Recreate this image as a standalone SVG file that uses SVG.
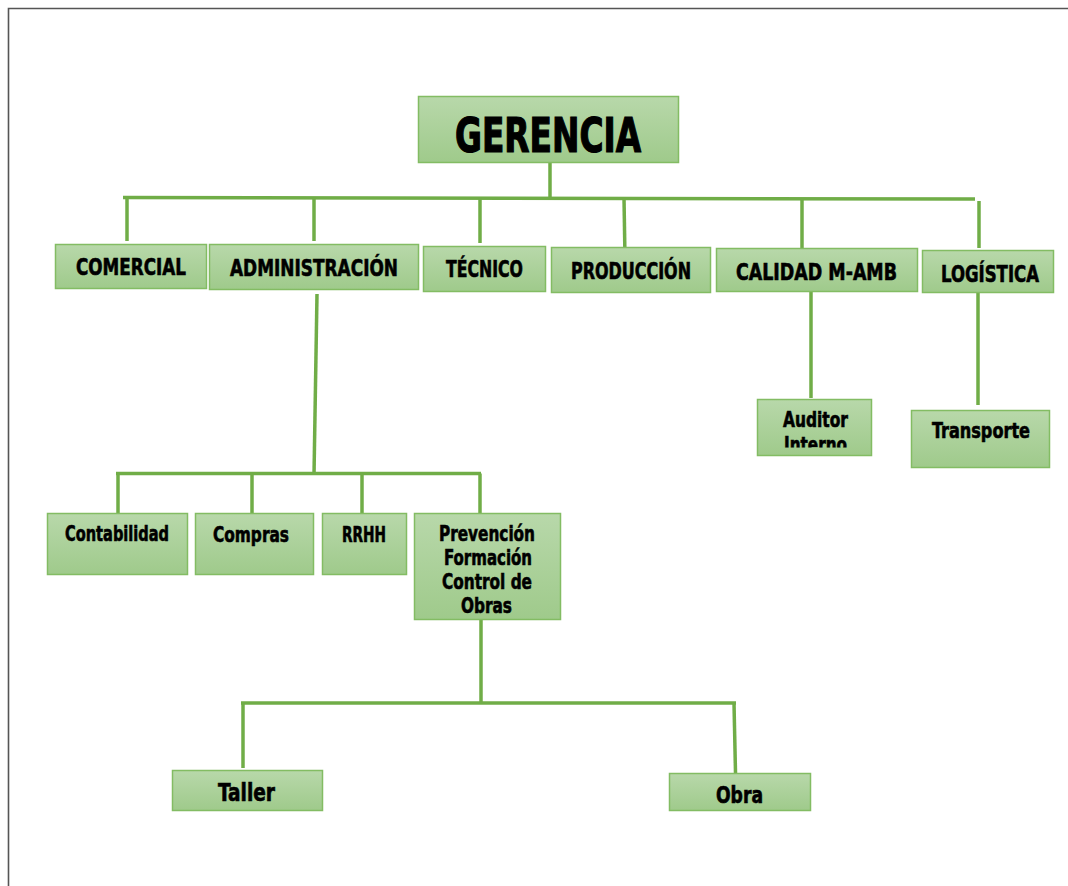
<svg xmlns="http://www.w3.org/2000/svg" width="1068" height="886" viewBox="0 0 1068 886">
<style>
.box{fill:url(#g);stroke:#83bc63;stroke-width:1.5}
.c{stroke:#70ad47;stroke-width:3.5;fill:none;stroke-linecap:butt}
.t{font-family:"Liberation Sans Narrow","DejaVu Sans Condensed","Liberation Sans",sans-serif;font-weight:bold;fill:#000;stroke:#000;stroke-width:0.6;font-stretch:condensed}
.big{stroke-width:1.2}
</style>
<defs>
<linearGradient id="g" x1="0" y1="0" x2="0" y2="1">
<stop offset="0" stop-color="#b8d8aa"/>
<stop offset="1" stop-color="#9fca8b"/>
</linearGradient>
<clipPath id="clipAud"><rect x="757" y="399" width="115" height="48.5"/></clipPath>
</defs>
<rect width="1068" height="886" fill="#fff"/>
<path d="M8.5 886 V8.5 H1068" fill="none" stroke="#555" stroke-width="1.6"/>
<g id="connectors">
<path class="c" d="M550 162 V198"/>
<path class="c" d="M123 197.5 L975 199"/>
<path class="c" d="M127 197.5 V241"/>
<path class="c" d="M314 197.5 V241"/>
<path class="c" d="M480 198 V243"/>
<path class="c" d="M624 198 L625 258"/>
<path class="c" d="M802 199 V250"/>
<path class="c" d="M979 201 V248"/>
<path class="c" d="M811 292 V398"/>
<path class="c" d="M978 293 V405"/>
<path class="c" d="M317 294 L314 475"/>
<path class="c" d="M116 473.5 H481"/>
<path class="c" d="M118 473.5 V514"/>
<path class="c" d="M252 473.5 V514"/>
<path class="c" d="M362 473.5 V514"/>
<path class="c" d="M480 473.5 V514"/>
<path class="c" d="M481 620 V703"/>
<path class="c" d="M241 703 H736"/>
<path class="c" d="M243 703 V768"/>
<path class="c" d="M734 703 L735.5 773"/>
</g>
<g id="gerencia">
<rect class="box" x="418.5" y="96.5" width="260" height="66"/>
<text class="t big" x="455" y="152" font-size="48" textLength="186" lengthAdjust="spacingAndGlyphs">GERENCIA</text>
</g>
<g id="comercial">
<rect class="box" x="55.5" y="244.5" width="151" height="44"/>
<text class="t" x="76" y="275" font-size="23" textLength="110" lengthAdjust="spacingAndGlyphs">COMERCIAL</text>
</g>
<g id="administracion">
<rect class="box" x="209.5" y="244.5" width="209" height="45"/>
<text class="t" x="230" y="276" font-size="23" textLength="168" lengthAdjust="spacingAndGlyphs">ADMINISTRACIÓN</text>
</g>
<g id="tecnico">
<rect class="box" x="423.5" y="246.5" width="122" height="45"/>
<text class="t" x="446" y="277" font-size="23" textLength="77" lengthAdjust="spacingAndGlyphs">TÉCNICO</text>
</g>
<g id="produccion">
<rect class="box" x="551.5" y="247.5" width="159" height="45"/>
<text class="t" x="571" y="279" font-size="23" textLength="120" lengthAdjust="spacingAndGlyphs">PRODUCCIÓN</text>
</g>
<g id="calidad">
<rect class="box" x="716.5" y="248.5" width="201" height="43"/>
<text class="t" x="736" y="280" font-size="23" textLength="161" lengthAdjust="spacingAndGlyphs">CALIDAD M-AMB</text>
</g>
<g id="logistica">
<rect class="box" x="922.5" y="250.5" width="131" height="42"/>
<text class="t" x="941" y="282" font-size="23" textLength="98" lengthAdjust="spacingAndGlyphs">LOGÍSTICA</text>
</g>
<g id="auditor">
<rect class="box" x="757.5" y="399.5" width="114" height="56"/>
<g clip-path="url(#clipAud)">
<text class="t" x="783" y="427" font-size="21" textLength="65" lengthAdjust="spacingAndGlyphs">Auditor</text>
<text class="t" x="784" y="452" font-size="21" textLength="63" lengthAdjust="spacingAndGlyphs">Interno</text>
</g>
</g>
<g id="transporte">
<rect class="box" x="911.5" y="410.5" width="138" height="57"/>
<text class="t" x="932" y="438" font-size="21" textLength="98" lengthAdjust="spacingAndGlyphs">Transporte</text>
</g>
<g id="contabilidad">
<rect class="box" x="47.5" y="513.5" width="140" height="61"/>
<text class="t" x="65" y="541" font-size="21" textLength="104" lengthAdjust="spacingAndGlyphs">Contabilidad</text>
</g>
<g id="compras">
<rect class="box" x="195.5" y="513.5" width="118" height="61"/>
<text class="t" x="213" y="542" font-size="21" textLength="76" lengthAdjust="spacingAndGlyphs">Compras</text>
</g>
<g id="rrhh">
<rect class="box" x="322.5" y="513.5" width="84" height="61"/>
<text class="t" x="342" y="542" font-size="21" textLength="44" lengthAdjust="spacingAndGlyphs">RRHH</text>
</g>
<g id="prevencion">
<rect class="box" x="414.5" y="513.5" width="146" height="106"/>
<text class="t" x="439" y="541" font-size="21" textLength="96" lengthAdjust="spacingAndGlyphs">Prevención</text>
<text class="t" x="444" y="565" font-size="21" textLength="88" lengthAdjust="spacingAndGlyphs">Formación</text>
<text class="t" x="442" y="589" font-size="21" textLength="90" lengthAdjust="spacingAndGlyphs">Control de</text>
<text class="t" x="461" y="613" font-size="21" textLength="51" lengthAdjust="spacingAndGlyphs">Obras</text>
</g>
<g id="taller">
<rect class="box" x="172.5" y="770.5" width="150" height="40"/>
<text class="t" x="218" y="801" font-size="24" textLength="57" lengthAdjust="spacingAndGlyphs">Taller</text>
</g>
<g id="obra">
<rect class="box" x="669.5" y="773.5" width="141" height="37"/>
<text class="t" x="716" y="803" font-size="23" textLength="47" lengthAdjust="spacingAndGlyphs">Obra</text>
</g>
</svg>
